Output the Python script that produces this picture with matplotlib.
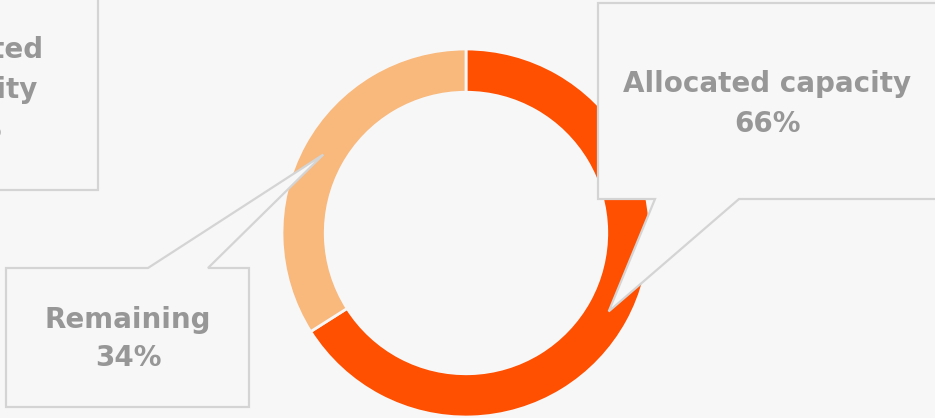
import numpy as np
import matplotlib.pyplot as plt
from matplotlib.patches import Polygon

labels = ["Allocated capacity", "Remaining"]
values = [66, 34]
colors = ["#FF4F00", "#F9B87C"]

W, H = 935, 418
bg = "#F7F7F7"
line_col = "#D4D4D4"
text_col = "#979797"

fig = plt.figure(figsize=(W / 100, H / 100), dpi=100, facecolor=bg)
ax = fig.add_axes([0, 0, 1, 1])
ax.set_facecolor(bg)

cx, cy, R = 466, H - 233, 184
wedges, _ = ax.pie(values, colors=colors, startangle=90, counterclock=False,
                   center=(cx, cy), radius=R,
                   wedgeprops=dict(width=R * 0.235, edgecolor=bg, linewidth=2))
ax.set_xlim(0, W)
ax.set_ylim(0, H)
ax.set_aspect("equal")
ax.axis("off")


def tip(w, frac=0.885):
    a = np.deg2rad((w.theta1 + w.theta2) / 2)
    return cx + R * frac * np.cos(a), cy + R * frac * np.sin(a)


def callout(pts, zorder=5):
    ax.add_patch(Polygon(pts, closed=True, facecolor=bg, edgecolor=line_col,
                         linewidth=1.6, zorder=zorder, clip_on=False))


font = dict(color=text_col, fontweight="bold", fontsize=20, ha="center",
            va="center", family="DejaVu Sans", zorder=6)

# allocated callout (right)
tx, ty = tip(wedges[0])
callout([(598, H - 3), (950, H - 3), (950, H - 199), (739, H - 199),
         (tx, ty), (655, H - 199), (598, H - 199)])
ax.text(767, H - 84, labels[0], **font)
ax.text(767, H - 124, f"{values[0]}%", **font)

# remaining callout (bottom left)
tx, ty = tip(wedges[1])
callout([(6, H - 268), (148, H - 268), (tx, ty), (208, H - 268),
         (249, H - 268), (249, H - 407), (6, H - 407)])
ax.text(128, H - 320, labels[1], **font)
ax.text(128, H - 358, f"{values[1]}%", **font)

# duplicate callout cut off at the top left
callout([(-200, H + 10), (98, H + 10), (98, H - 190), (-200, H - 190)])
side = dict(font, ha="right")
ax.text(44, H - 50, "Allocated", **side)
ax.text(38, H - 90, "capacity", **side)
ax.text(2, H - 130, f"{values[0]}%", **side)

fig.savefig("out.png", dpi=100, facecolor=bg)
